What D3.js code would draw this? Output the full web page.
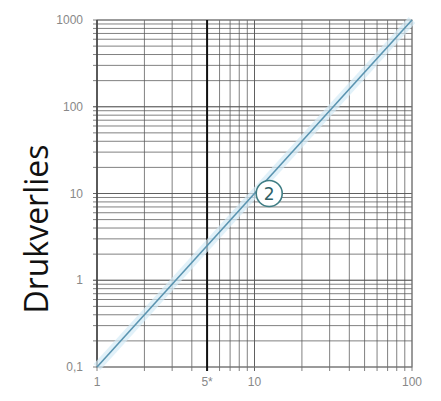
<!DOCTYPE html>
<html>
<head>
<meta charset="utf-8">
<script src="https://cdn.jsdelivr.net/npm/d3@7"></script>
<style>
  body { margin: 0; background: #fff; }
</style>
</head>
<body>
<svg id="chart" width="441" height="401"></svg>
<script>
// flow (x) vs pressure loss (y), log-log
const flowValues = [1, 100]
const lossValues = [0.1, 1000]
const xTickValues = [1, 5, 10, 100]
const xTickLabels = ["1", "5*", "10", "100"]
const yTickValues = [0.1, 1, 10, 100, 1000]
const yTickLabels = ["0,1", "1", "10", "100", "1000"]
const curveLabels = ["2"]
const curveLabelX = [12.4]
const curveLabelY = [10]
const highlightX = [5]

const svg = d3.select("#chart")
const margin = { left: 97, right: 29, top: 20, bottom: 34 }
const width = 441 - margin.left - margin.right
const height = 401 - margin.top - margin.bottom

const g = svg.append("g")
  .attr("transform", `translate(${margin.left}, ${margin.top})`)

const x = d3.scaleLog().domain([1, 100]).range([0, width])
const y = d3.scaleLog().domain([0.1, 1000]).range([height, 0])

// minor grid values: 1..9 per decade
const gridX = []
for (let d = 1; d < 100; d *= 10) for (let k = 1; k <= 10; k++) gridX.push(k * d)
const gridY = []
for (let d = 0.1; d < 999; d *= 10) for (let k = 1; k <= 10; k++) gridY.push(+(k * d).toPrecision(3))

g.selectAll(".gx").data(gridX).enter().append("line")
  .attr("x1", d => x(d)).attr("x2", d => x(d))
  .attr("y1", 0).attr("y2", height + 4)
  .attr("stroke", "#555").attr("stroke-opacity", 0.75).attr("stroke-width", 1)

g.selectAll(".gy").data(gridY).enter().append("line")
  .attr("y1", d => y(d)).attr("y2", d => y(d))
  .attr("x1", -4).attr("x2", width)
  .attr("stroke", "#555").attr("stroke-opacity", 0.75).attr("stroke-width", 1)

// border
g.append("rect")
  .attr("width", width).attr("height", height)
  .attr("fill", "none").attr("stroke", "#777").attr("stroke-width", 1)

// left axis line a bit darker
g.append("line").attr("x1", 0).attr("x2", 0).attr("y1", 0).attr("y2", height)
  .attr("stroke", "#444").attr("stroke-width", 1.5)

// highlighted x
g.selectAll(".hx").data(highlightX).enter().append("line")
  .attr("x1", d => x(d)).attr("x2", d => x(d))
  .attr("y1", 0).attr("y2", height + 4)
  .attr("stroke", "#111").attr("stroke-width", 2)

// curve
const pts = flowValues.map((v, i) => [v, lossValues[i]])
const line = d3.line().x(d => x(d[0])).y(d => y(d[1]))
g.append("path").datum(pts)
  .attr("d", line).attr("fill", "none")
  .attr("stroke", "#d4ebf7").attr("stroke-width", 9).attr("stroke-opacity", 0.7)
g.append("path").datum(pts)
  .attr("d", line).attr("fill", "none")
  .attr("stroke", "#5a94b0").attr("stroke-width", 1.6)

// curve label
curveLabels.forEach((t, i) => {
  const cx = x(curveLabelX[i]), cy = y(curveLabelY[i])
  g.append("circle").attr("cx", cx).attr("cy", cy).attr("r", 13)
    .attr("fill", "#fff").attr("stroke", "#3f7d84").attr("stroke-width", 1.6)
  g.append("text").attr("x", cx).attr("y", cy + 6)
    .attr("text-anchor", "middle").attr("font-family", "DejaVu Sans, sans-serif")
    .attr("font-size", "17px").attr("fill", "#2f5f66").text(t)
})

// tick labels
g.selectAll(".xl").data(xTickValues).enter().append("text")
  .attr("x", d => x(d)).attr("y", height + 19)
  .attr("text-anchor", "middle")
  .attr("font-family", "Liberation Sans Narrow, Liberation Sans, sans-serif")
  .attr("font-size", "12px").attr("fill", "#888")
  .text((d, i) => xTickLabels[i])

g.selectAll(".yl").data(yTickValues).enter().append("text")
  .attr("x", -14).attr("y", d => y(d) + 4)
  .attr("text-anchor", "end")
  .attr("font-family", "Liberation Sans Narrow, Liberation Sans, sans-serif")
  .attr("font-size", "12px").attr("fill", "#888")
  .text((d, i) => yTickLabels[i])

// Y label
svg.append("text")
  .attr("transform", "translate(48, 229) rotate(-90)")
  .attr("text-anchor", "middle")
  .attr("font-family", "Open Sans, sans-serif")
  .attr("font-size", "32px").attr("fill", "#111")
  .text("Drukverlies")
</script>
</body>
</html>
